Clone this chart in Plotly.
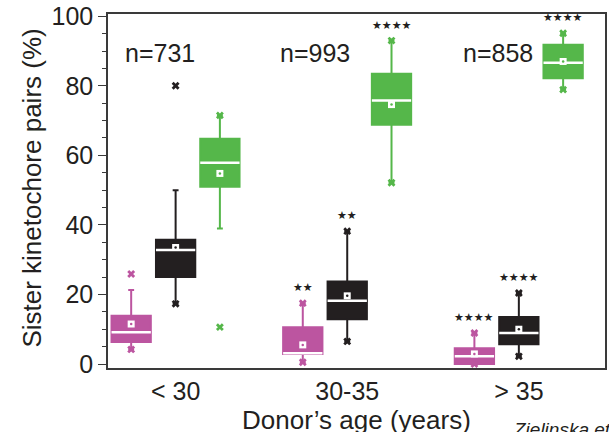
import plotly.graph_objects as go

# ---------------- data ----------------
age_groups = ["< 30", "30-35", "> 35"]
n_counts = [731, 993, 858]

pink_q1 = [6.3, 2.9, 0.0]
pink_median = [9.1, 3.1, 2.2]
pink_q3 = [13.9, 10.6, 4.5]
pink_mean = [11.5, 5.5, 2.9]
pink_lower = [4.2, 0.5, 0.0]
pink_upper = [21.3, 17.5, 8.9]
pink_min = [4.2, 0.5, 0.0]
pink_max = [25.9, 17.5, 8.9]
pink_sig = ["", "**", "****"]

black_q1 = [25.0, 12.9, 5.7]
black_median = [32.8, 18.2, 8.9]
black_q3 = [35.7, 23.7, 13.5]
black_mean = [33.5, 19.6, 10.0]
black_lower = [17.3, 6.5, 2.2]
black_upper = [50.0, 38.2, 20.4]
black_min = [17.3, 6.5, 2.2]
black_max = [80.0, 38.2, 20.4]
black_sig = ["", "**", "****"]

green_q1 = [51.0, 68.8, 82.2]
green_median = [57.9, 75.8, 86.6]
green_q3 = [64.8, 83.5, 91.8]
green_mean = [54.8, 74.6, 87.0]
green_lower = [39.0, 52.1, 78.9]
green_upper = [71.5, 93.0, 95.1]
green_min = [10.6, 52.1, 78.9]
green_max = [71.5, 93.0, 95.1]
green_sig = ["", "****", "****"]

# ---------------- style ----------------
FONT = "Liberation Sans, Arial, sans-serif"
TXT = "#231F20"
PINK = "#BC55A0"
BLACK = "#231F20"
GREEN = "#55B74A"
BOX_W = 0.229
OFFSETS = [-0.259, 0.0, 0.258]
N_LABEL_DX = [-0.09, -0.19, -0.12]

series = [
    (PINK, pink_q1, pink_median, pink_q3, pink_mean, pink_lower, pink_upper, pink_min, pink_max, pink_sig),
    (BLACK, black_q1, black_median, black_q3, black_mean, black_lower, black_upper, black_min, black_max, black_sig),
    (GREEN, green_q1, green_median, green_q3, green_mean, green_lower, green_upper, green_min, green_max, green_sig),
]

fig = go.Figure()
annotations = []
for k, (col, q1, med, q3, mean, lo, up, mn, mx, sig) in enumerate(series):
    xs = [i + OFFSETS[k] for i in range(len(age_groups))]
    fig.add_trace(go.Box(
        x=xs, q1=q1, median=med, q3=q3, lowerfence=lo, upperfence=up,
        width=BOX_W, whiskerwidth=0.15, boxpoints=False,
        fillcolor=col, line=dict(color=col, width=2), showlegend=False,
        hoverinfo="skip"))
    # white median bar
    fig.add_trace(go.Box(
        x=xs, q1=med, median=med, q3=med, lowerfence=med, upperfence=med,
        width=BOX_W, whiskerwidth=0, boxpoints=False,
        fillcolor="rgba(0,0,0,0)", line=dict(color="white", width=2.5),
        showlegend=False, hoverinfo="skip"))
    # mean markers
    fig.add_trace(go.Scatter(
        x=xs, y=mean, mode="markers",
        marker=dict(symbol="square", size=7, color="white", line=dict(width=0)),
        showlegend=False, hoverinfo="skip"))
    fig.add_trace(go.Scatter(
        x=xs, y=mean, mode="markers",
        marker=dict(symbol="circle", size=2.5, color=col, line=dict(width=0)),
        showlegend=False, hoverinfo="skip"))
    # min / max markers
    fig.add_trace(go.Scatter(
        x=xs + xs, y=mn + mx, mode="markers",
        marker=dict(symbol="x", size=7, color=col, line=dict(width=0)),
        showlegend=False, hoverinfo="skip", cliponaxis=False))
    for x, y, s in zip(xs, mx, sig):
        if s:
            annotations.append(dict(
                x=x, y=y, xref="x", yref="y", text="★" * len(s),
                showarrow=False, yanchor="bottom", yshift=7,
                font=dict(family="DejaVu Sans", size=11, color=TXT)))

for i, n in enumerate(n_counts):
    annotations.append(dict(
        x=i + N_LABEL_DX[i], y=89.3, xref="x", yref="y", text=f"n={n}",
        showarrow=False, xanchor="center", yanchor="middle",
        font=dict(family=FONT, size=25, color=TXT)))

annotations.append(dict(
    x=-0.152, y=0.508, xref="paper", yref="paper",
    text="Sister kinetochore pairs (%)", textangle=-90, showarrow=False,
    xanchor="center", yanchor="middle",
    font=dict(family=FONT, size=26, color=TXT)))
annotations.append(dict(
    x=0.501, y=-0.100, xref="paper", yref="paper",
    text="Donor’s age (years)", showarrow=False,
    xanchor="center", yanchor="top",
    font=dict(family=FONT, size=26, color=TXT)))
annotations.append(dict(
    x=0.810, y=-0.138, xref="paper", yref="paper",
    text="<i>Zielinska et al.</i>", showarrow=False,
    xanchor="left", yanchor="top",
    font=dict(family=FONT, size=19, color=TXT)))

fig.update_layout(
    width=609, height=432,
    margin=dict(l=108, r=2, t=13, b=64),
    paper_bgcolor="white", plot_bgcolor="white",
    boxmode="overlay",
    font=dict(family=FONT, color=TXT),
    annotations=annotations,
)
fig.update_xaxes(
    range=[-0.394, 2.502], tickmode="array",
    tickvals=list(range(len(age_groups))), ticktext=age_groups,
    ticks="", showgrid=False, zeroline=False,
    showline=True, mirror=True, linecolor="#3a3a3a", linewidth=1.5,
    tickfont=dict(family=FONT, size=25, color=TXT),
)
fig.update_yaxes(
    range=[-1.15, 100.65], tickmode="array", tickvals=[0, 20, 40, 60, 80, 100],
    ticks="outside", ticklen=8, tickwidth=1.2, tickcolor="#3a3a3a",
    minor=dict(tickmode="linear", tick0=0, dtick=5, ticks="outside", ticklen=4,
               tickwidth=1.2, tickcolor="#3a3a3a"),
    showgrid=False, zeroline=False,
    showline=True, mirror=True, linecolor="#3a3a3a", linewidth=1.5,
    tickfont=dict(family=FONT, size=25, color=TXT),
)

fig.write_html(
    "out.html",
    config={"displayModeBar": False},
    post_script="document.body.style.margin='0';document.body.style.overflow='hidden';",
)
